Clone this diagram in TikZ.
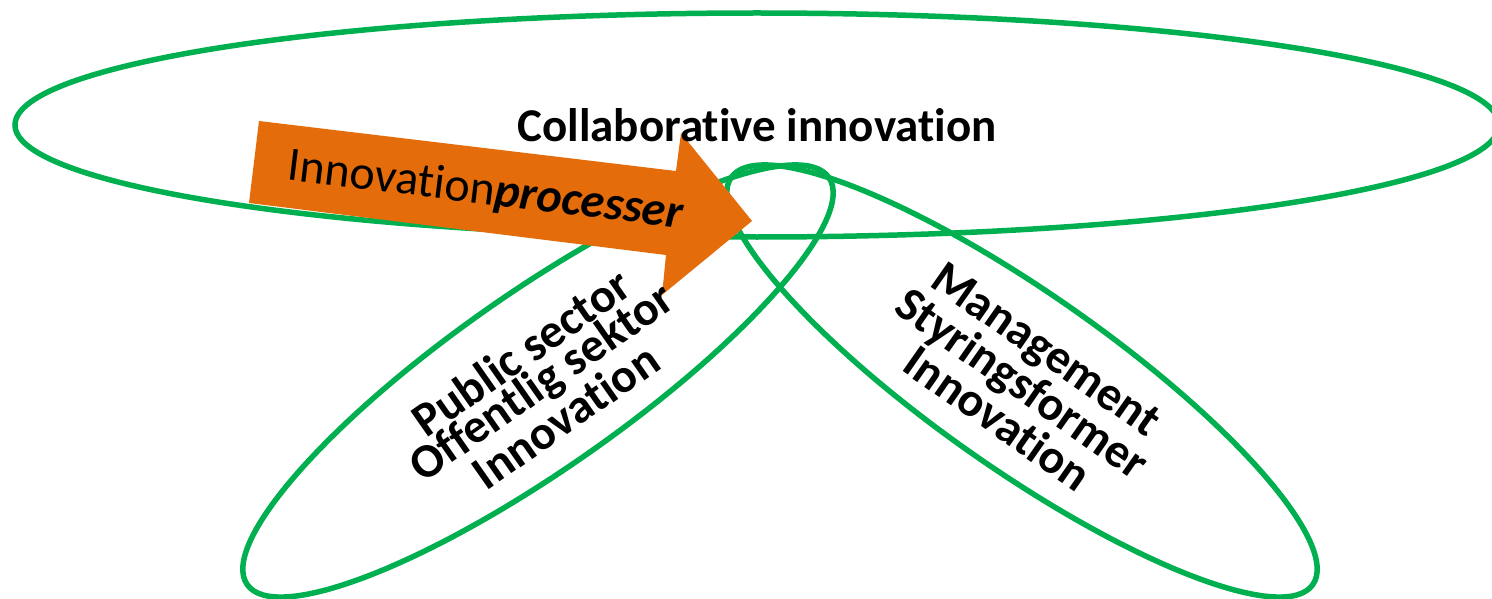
\documentclass[tikz,border=0pt]{standalone}
\usepackage{fontspec}
\setmainfont{Carlito}[Ligatures={NoCommon}]
\definecolor{ogreen}{HTML}{00B050}
\definecolor{oorange}{HTML}{E46C0A}
\begin{document}
\begin{tikzpicture}[x=1pt,y=1pt,
  ring/.style={draw=ogreen, line width=5.5pt},
  lbl/.style={font=\fontsize{48}{34}\selectfont\bfseries, align=center, inner sep=0pt},
  title/.style={font=\fontsize{47}{56}\selectfont\bfseries, inner sep=0pt},
  arrowtext/.style={font=\fontsize{48}{56}\selectfont, inner sep=0pt}
]
\useasboundingbox (0,0) rectangle (1492,-599);
\fill[white] (0,0) rectangle (1492,-599);
\draw[ring] (757,-125) ellipse [x radius=742, y radius=112];
\draw[ring, rotate around={35:(538,-381)}] (538,-381) ellipse [x radius=355, y radius=88];
\draw[ring, rotate around={-35:(1022,-381)}] (1022,-381) ellipse [x radius=355, y radius=88];
\fill[oorange] (259,-121) -- (676,-171) -- (681,-133) -- (752,-221) -- (662,-295) -- (666,-255) -- (249,-203) -- cycle;
\node[arrowtext, anchor=base, rotate=-7] (proc) at (484,-204) {Innovation\textbf{\textit{processer}}};
\node[title, anchor=base] (collab) at (757,-142) {Collaborative innovation};
\node[lbl, rotate=35] (public) at (543,-384) {Public sector\\Offentlig sektor\\Innovation};
\node[lbl, rotate=-35] (manage) at (1022,-384) {Management\\Styringsformer\\Innovation};
\end{tikzpicture}
\end{document}
